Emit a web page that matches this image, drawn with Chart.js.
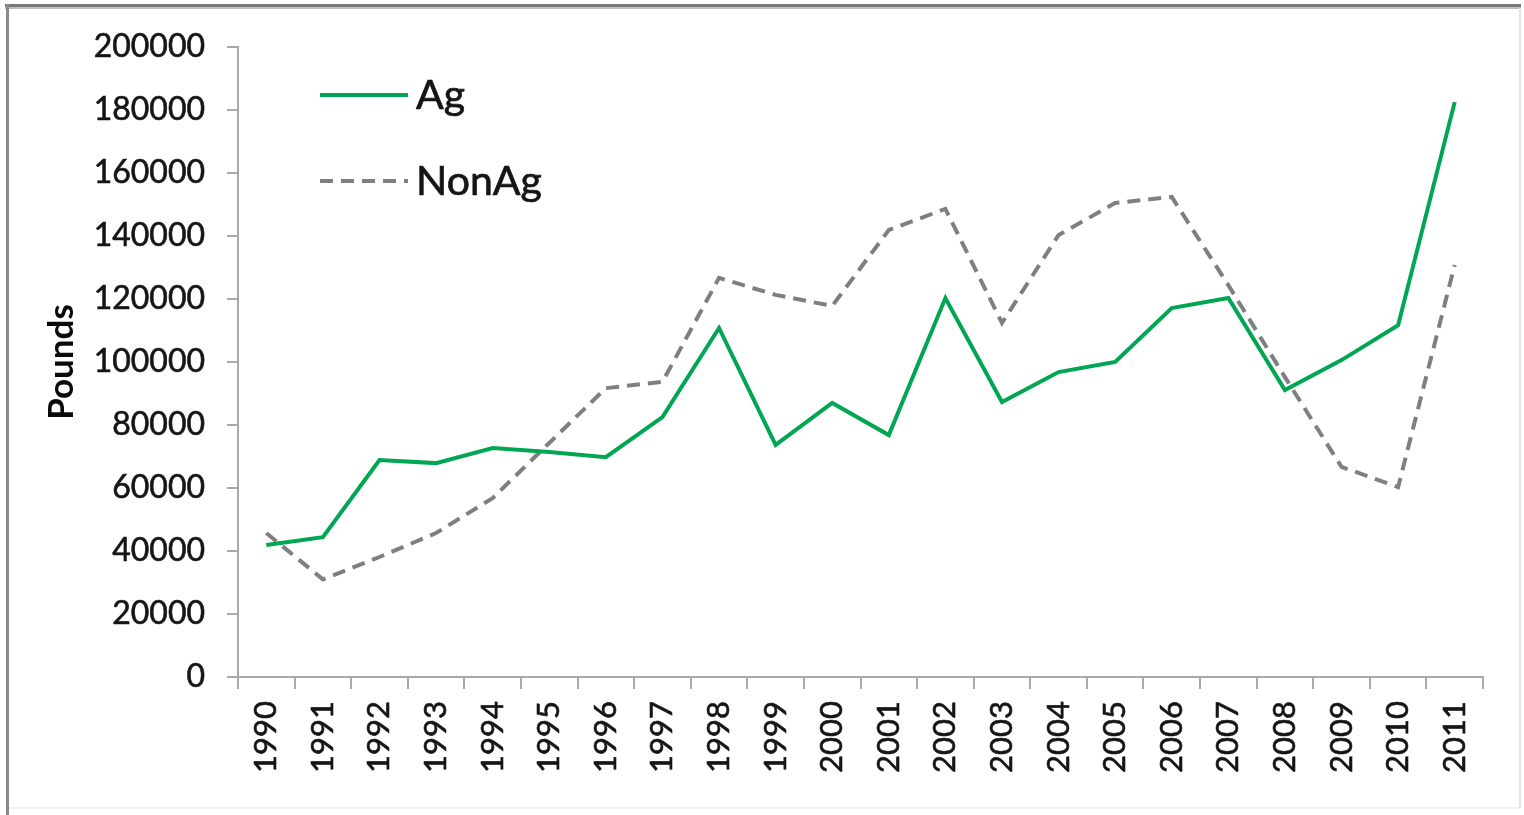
<!DOCTYPE html>
<html>
<head>
<meta charset="utf-8">
<script src="https://cdn.jsdelivr.net/npm/chart.js@4.4.1/dist/chart.umd.min.js"></script>
<style>
  html, body { margin: 0; padding: 0; background: #ffffff; overflow: hidden; }
  #wrap { position: relative; width: 1524px; height: 815px; }
  canvas { display: block; }
</style>
</head>
<body>
<div id="wrap"><canvas id="chart" width="1524" height="815"></canvas></div>
<script>
// Annual pesticide use, in pounds
const years = ['1990','1991','1992','1993','1994','1995','1996','1997','1998','1999','2000',
               '2001','2002','2003','2004','2005','2006','2007','2008','2009','2010','2011'];
const agPounds = [41900, 44400, 68900, 67900, 72700, 71400, 69800, 82500, 110800, 73700, 87000,
                  76800, 120300, 87300, 96800, 100000, 117100, 120300, 91100, 100600, 111700, 182500];
const nonAgPounds = [45700, 31000, 38100, 45700, 56800, 74300, 91700, 93700, 126700, 121300, 117800,
                     141900, 148600, 112400, 140300, 150500, 152400, 124400, 95200, 66700, 60300, 130800];
const seriesNames = ['Ag', 'NonAg'];
const yAxisTitle = 'Pounds';
const yMin = 0, yMax = 200000, yStep = 20000;

const FONT = 'Lato, "Open Sans", sans-serif';
const AXIS_GRAY = '#a9a9a9';
const TEXT_COLOR = '#151515';

// Page frame around the figure
const framePlugin = {
  id: 'frame',
  beforeDraw(chart) {
    const ctx = chart.ctx;
    ctx.save();
    ctx.fillStyle = '#ffffff';
    ctx.fillRect(0, 0, chart.width, chart.height);
    ctx.fillStyle = '#7a7a7a';
    ctx.fillRect(5, 4, 1516, 3);
    ctx.fillStyle = '#bdbdbd';
    ctx.fillRect(5, 7, 1516, 2);
    ctx.fillStyle = '#8a8a8a';
    ctx.fillRect(6, 4, 3, 811);
    ctx.fillStyle = '#e4e4e4';
    ctx.fillRect(1519, 8, 2, 800);
    ctx.fillStyle = '#efefef';
    ctx.fillRect(9, 807, 1511, 2);
    ctx.restore();
  }
};

// Legend drawn inside the plot, upper left, using each dataset's own style
const insideLegend = {
  id: 'insideLegend',
  afterDraw(chart) {
    const ctx = chart.ctx;
    const rows = [ { y: 95, base: 109 }, { y: 181, base: 195 } ];
    ctx.save();
    chart.data.datasets.forEach((ds, i) => {
      const r = rows[i];
      ctx.strokeStyle = ds.borderColor;
      ctx.lineWidth = ds.borderWidth;
      ctx.setLineDash(ds.borderDash || []);
      ctx.beginPath();
      ctx.moveTo(320, r.y);
      ctx.lineTo(408, r.y);
      ctx.stroke();
      ctx.setLineDash([]);
      ctx.fillStyle = TEXT_COLOR;
      ctx.strokeStyle = TEXT_COLOR;
      ctx.lineWidth = 0.7;
      ctx.font = '41px ' + FONT;
      ctx.textBaseline = 'alphabetic';
      ctx.textAlign = 'left';
      ctx.fillText(ds.label, 416, r.base);
      ctx.strokeText(ds.label, 416, r.base);
    });
    ctx.restore();
  }
};

new Chart(document.getElementById('chart'), {
  type: 'line',
  data: {
    labels: years,
    datasets: [
      {
        label: seriesNames[0],
        data: agPounds,
        borderColor: '#00a651',
        borderWidth: 4,
        pointRadius: 0,
        tension: 0,
        fill: false
      },
      {
        label: seriesNames[1],
        data: nonAgPounds,
        borderColor: '#7f7f7f',
        borderWidth: 4,
        borderDash: [13, 8],
        pointRadius: 0,
        tension: 0,
        fill: false
      }
    ]
  },
  options: {
    responsive: false,
    animation: false,
    devicePixelRatio: 1,
    layout: { padding: { left: 0, top: 47, right: 41, bottom: 0 } },
    plugins: {
      legend: { display: false },
      tooltip: { enabled: false },
      title: { display: false }
    },
    scales: {
      x: {
        type: 'category',
        offset: true,
        grid: {
          offset: true,
          drawOnChartArea: false,
          drawTicks: true,
          tickLength: 12,
          tickColor: AXIS_GRAY,
          lineWidth: 2
        },
        border: { display: true, color: AXIS_GRAY, width: 2 },
        ticks: {
          autoSkip: false,
          minRotation: 90,
          maxRotation: 90,
          padding: 12,
          color: TEXT_COLOR,
          textStrokeColor: TEXT_COLOR,
          textStrokeWidth: 0.6,
          font: { family: FONT, size: 31 }
        },
        afterFit(scale) { scale.height = 138; }
      },
      y: {
        min: yMin,
        max: yMax,
        grid: {
          drawOnChartArea: false,
          drawTicks: true,
          tickLength: 11,
          tickColor: AXIS_GRAY,
          lineWidth: 2
        },
        border: { display: true, color: AXIS_GRAY, width: 2 },
        ticks: {
          stepSize: yStep,
          padding: 22,
          color: TEXT_COLOR,
          textStrokeColor: TEXT_COLOR,
          textStrokeWidth: 0.6,
          font: { family: FONT, size: 32 },
          callback: (v) => String(v)
        },
        title: {
          display: true,
          text: yAxisTitle,
          color: '#0a0a0a',
          font: { family: FONT, size: 35, weight: 'bold' },
          padding: { top: 41, bottom: 0 }
        },
        afterFit(scale) { scale.width = 238; }
      }
    }
  },
  plugins: [framePlugin, insideLegend]
});
</script>
</body>
</html>
